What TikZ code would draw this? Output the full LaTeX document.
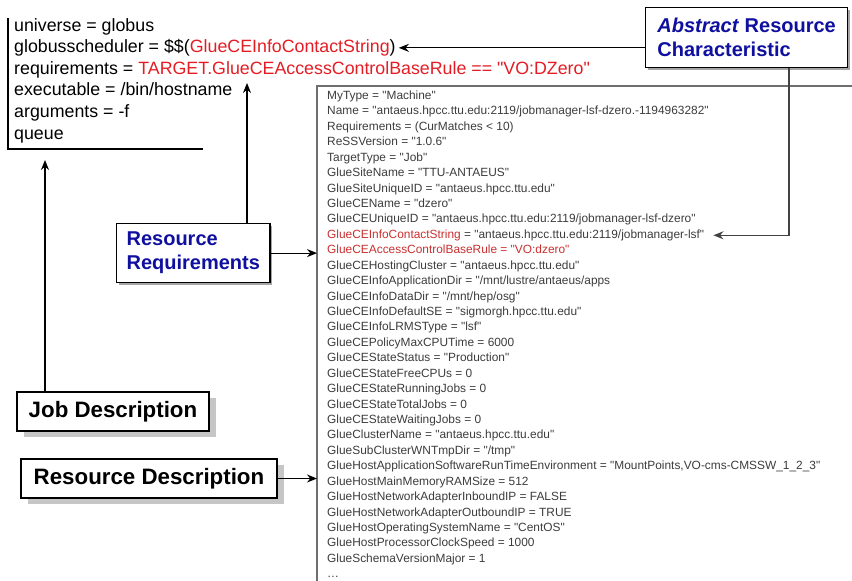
\documentclass[tikz,border=0pt]{standalone}
\usepackage{fontspec}
\setmainfont{Liberation Sans}[Ligatures=TeXOff]
\usetikzlibrary{arrows.meta,shadows}

\definecolor{bleu}{RGB}{16,16,160}
\definecolor{rouge}{RGB}{228,28,36}
\definecolor{rougepale}{RGB}{200,48,48}
\definecolor{gristexte}{RGB}{60,60,60}
\definecolor{griscadre}{RGB}{110,110,110}

\def\pas{21.6}
\def\paspetit{15.43}

\begin{document}
\begin{tikzpicture}[x=1pt,y=-1pt]
\tikzstyle{ligne}=[anchor=base west,inner sep=0,font=\fontsize{17.8}{20}\selectfont]
\tikzstyle{attribut}=[anchor=base west,inner sep=0,text=gristexte,font=\fontsize{11.9}{13}\selectfont]
\tikzstyle{boite}=[draw,line width=1.2pt,fill=white,align=left,inner xsep=10pt,text=bleu,font=\fontsize{20}{24}\selectfont\bfseries,drop shadow={shadow xshift=2pt,shadow yshift=-2pt,fill=gray!70,opacity=1}]
\tikzstyle{titre}=[draw,line width=1.2pt,fill=white,inner sep=0pt,minimum height=39pt,font=\fontsize{22.3}{26}\selectfont\bfseries,drop shadow={shadow xshift=7pt,shadow yshift=-6pt,fill=gray!45,opacity=1}]
\tikzstyle{fleche}=[-{Stealth[length=10pt,width=8pt]},line width=1.2pt]

\useasboundingbox (0,0) rectangle (852,581);

% job description
\foreach \ligne [count=\i from 0] in {
  {universe = globus},
  {globusscheduler = \$\$(\textcolor{rouge}{GlueCEInfoContactString})},
  {requirements = \textcolor{rouge}{TARGET.GlueCEAccessControlBaseRule == "VO:DZero"}},
  {executable = /bin/hostname},
  {arguments = -f},
  {queue}}
  \node[ligne] (j\i) at (14,31+\i*\pas) {\ligne};
\draw[line width=1.2pt] (8,18)--(8,149)--(203,149);

% resource description
\coordinate (cadre) at (317,86);
\draw[griscadre,line width=1.2pt] (852,86)--(cadre)--(317,581);
\foreach \ligne [count=\i from 0] in {
  {MyType = "Machine"},
  {Name = "antaeus.hpcc.ttu.edu:2119/jobmanager-lsf-dzero.-1194963282"},
  {Requirements = (CurMatches < 10)},
  {ReSSVersion = "1.0.6"},
  {TargetType = "Job"},
  {GlueSiteName = "TTU-ANTAEUS"},
  {GlueSiteUniqueID = "antaeus.hpcc.ttu.edu"},
  {GlueCEName = "dzero"},
  {GlueCEUniqueID = "antaeus.hpcc.ttu.edu:2119/jobmanager-lsf-dzero"},
  {\textcolor{rougepale}{GlueCEInfoContactString} = "antaeus.hpcc.ttu.edu:2119/jobmanager-lsf"},
  {\textcolor{rougepale}{GlueCEAccessControlBaseRule = "VO:dzero"}},
  {GlueCEHostingCluster = "antaeus.hpcc.ttu.edu"},
  {GlueCEInfoApplicationDir = "/mnt/lustre/antaeus/apps},
  {GlueCEInfoDataDir = "/mnt/hep/osg"},
  {GlueCEInfoDefaultSE = "sigmorgh.hpcc.ttu.edu"},
  {GlueCEInfoLRMSType = "lsf"},
  {GlueCEPolicyMaxCPUTime = 6000},
  {GlueCEStateStatus = "Production"},
  {GlueCEStateFreeCPUs = 0},
  {GlueCEStateRunningJobs = 0},
  {GlueCEStateTotalJobs = 0},
  {GlueCEStateWaitingJobs = 0},
  {GlueClusterName = "antaeus.hpcc.ttu.edu"},
  {GlueSubClusterWNTmpDir = "/tmp"},
  {GlueHostApplicationSoftwareRunTimeEnvironment = "MountPoints,VO-cms-CMSSW\_1\_2\_3"},
  {GlueHostMainMemoryRAMSize = 512},
  {GlueHostNetworkAdapterInboundIP = FALSE},
  {GlueHostNetworkAdapterOutboundIP = TRUE},
  {GlueHostOperatingSystemName = "CentOS"},
  {GlueHostProcessorClockSpeed = 1000},
  {GlueSchemaVersionMajor = 1}}
  \node[attribut] (r\i) at (327,99.5+\i*\paspetit) {\ligne};
\node[attribut] (rfin) at (327,99.5+31*\paspetit) {\ldots};

% boites
\node[boite,anchor=north west,minimum height=60pt,minimum width=202pt] (abs) at (645,7) {\textit{Abstract} Resource\\Characteristic};
\node[boite,anchor=north west,minimum height=59pt] (req) at (116,223) {Resource\\Requirements};
\node[titre,minimum width=192pt] (jobdesc) at (113,411.5) {Job Description};
\node[titre,minimum width=256pt] (resdesc) at (149,478.5) {Resource Description};

% fleches
\coordinate (coude) at (789,0);
\coordinate (rtip) at (247,83);
\coordinate (jtip) at (45,160);
\draw[fleche] (abs.west |- j1.east)--([xshift=3pt]j1.east);
\draw[fleche,griscadre!60!black] (coude |- abs.south)--(coude |- r9.east)--([xshift=9pt]r9.east);
\draw[fleche] (rtip |- req.north)--(rtip);
\draw[fleche] (req.east)--(req.east -| cadre);
\draw[fleche] (jtip |- jobdesc.north)--(jtip);
\draw[fleche] (resdesc.east)--(resdesc.east -| cadre);

\end{tikzpicture}
\end{document}
